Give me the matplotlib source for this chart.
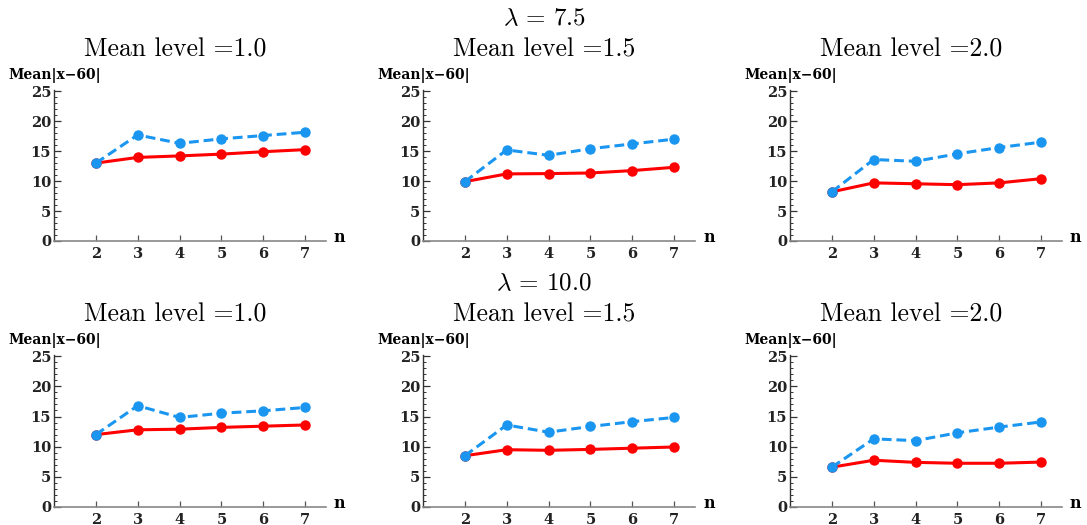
import matplotlib
matplotlib.use("Agg")
import matplotlib.pyplot as plt
from matplotlib.ticker import MultipleLocator
import numpy as np

plt.rcParams['mathtext.fontset'] = 'cm'

n = [2, 3, 4, 5, 6, 7]
lambdas = ["7.5", "10.0"]
levels = ["1.0", "1.5", "2.0"]

# red solid series, one list per panel (row: lambda, col: mean level)
red = [
    [[13.0, 13.95, 14.2, 14.5, 14.9, 15.25],
     [9.9, 11.2, 11.25, 11.35, 11.75, 12.3],
     [8.2, 9.7, 9.55, 9.4, 9.7, 10.4]],
    [[12.0, 12.8, 12.9, 13.2, 13.4, 13.6],
     [8.5, 9.5, 9.4, 9.55, 9.75, 9.95],
     [6.6, 7.75, 7.4, 7.25, 7.25, 7.45]],
]
# blue dashed series
blue = [
    [[13.0, 17.7, 16.3, 17.05, 17.6, 18.15],
     [9.9, 15.2, 14.3, 15.4, 16.2, 17.0],
     [8.2, 13.6, 13.3, 14.55, 15.6, 16.5]],
    [[12.0, 16.8, 14.85, 15.55, 15.95, 16.5],
     [8.5, 13.6, 12.4, 13.35, 14.15, 14.85],
     [6.6, 11.3, 11.0, 12.3, 13.25, 14.1]],
]

W, H = 1087, 525
fig = plt.figure(figsize=(W / 100, H / 100), dpi=100)

lefts = [54, 423, 790]
bottoms = [241, 507]
tops = [90, 355]
axw = 272
serif = 'DejaVu Serif'

for r in range(2):
    # lambda title
    fig.text(544 / W, 1 - (18 + r * 265) / H, r'$\lambda\, =\, %s$' % lambdas[r],
             ha='center', va='center', fontsize=18)
    for c in range(3):
        x0 = lefts[c]
        ax = fig.add_axes([x0 / W, 1 - bottoms[r] / H, axw / W, (bottoms[r] - tops[r]) / H])
        ax.plot(n, red[r][c], '-o', color='#ff0000', lw=2.2, ms=6.5, zorder=3)
        ax.plot(n, blue[r][c], '--o', color='#1a96f0', lw=2.2, ms=6.5,
                dashes=(3.2, 1.6), zorder=4)
        ax.set_xlim(1, 7.5)
        ax.set_ylim(0, 25.2)
        for s in ['top', 'right']:
            ax.spines[s].set_visible(False)
        ax.spines['left'].set_color('#333333')
        ax.spines['bottom'].set_color('#888888')
        ax.spines['left'].set_linewidth(1.0)
        ax.spines['bottom'].set_linewidth(1.2)
        ax.set_xticks(n)
        ax.yaxis.set_major_locator(MultipleLocator(5))
        ax.yaxis.set_minor_locator(MultipleLocator(1))
        ax.tick_params(axis='y', which='major', direction='in', length=5, width=0.9,
                       color='#333333', pad=2)
        ax.tick_params(axis='y', which='minor', direction='in', length=2.5, width=0.7,
                       color='#333333')
        ax.tick_params(axis='x', direction='in', length=4, width=0.9, color='#555555', pad=4)
        for lab in ax.get_xticklabels() + ax.get_yticklabels():
            lab.set_fontfamily(serif)
            lab.set_fontweight('bold')
            lab.set_fontsize(10.5)
            lab.set_color('#222222')
        ax.annotate('Mean|x\u221260|', xy=(0, 1), xycoords='axes fraction',
                    xytext=(-46, 15), textcoords='offset pixels', ha='left', va='center',
                    fontfamily=serif, fontweight='bold', fontsize=10)
        ax.annotate('n', xy=(1, 0), xycoords='axes fraction',
                    xytext=(8, 3), textcoords='offset pixels', ha='left', va='center',
                    fontfamily=serif, fontweight='bold', fontsize=11.5)
        # panel title
        fig.text((x0 + axw / 2 - 15) / W, 1 - (50 + r * 265) / H,
                 'Mean level =%s' % levels[c], fontfamily='cmr10',
                 ha='center', va='center', fontsize=18.5)

fig.savefig('out.png', dpi=100)
